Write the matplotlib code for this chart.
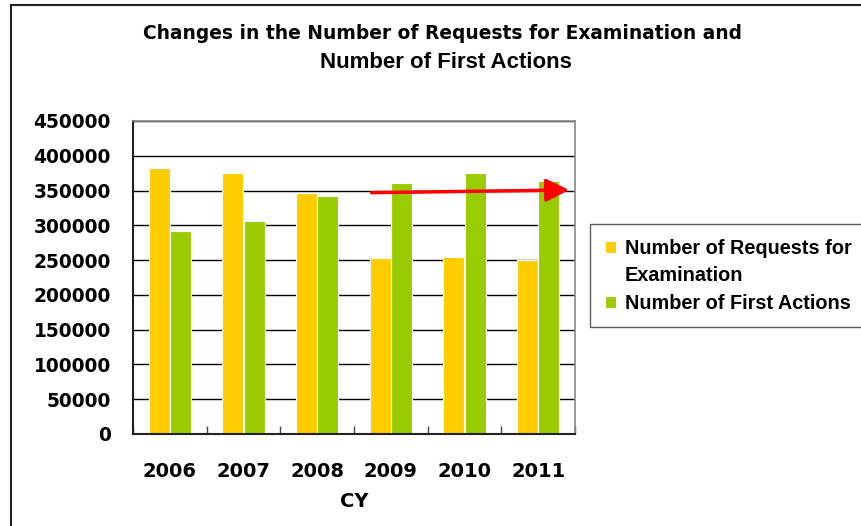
import numpy as np
import matplotlib
matplotlib.use("Agg")
import matplotlib.pyplot as plt
from matplotlib.lines import Line2D
from matplotlib.patches import Rectangle

# data
years = ["2006", "2007", "2008", "2009", "2010", "2011"]
requests = [382000, 375700, 346500, 252600, 254500, 250200]
first_actions = [291400, 306200, 342600, 361300, 375700, 363700]

# trend arrow (category position, value)
arrow_start = (2.74, 346900)
arrow_end = (5.42, 350800)

yellow = "#FFCC00"
green = "#99CC00"

fig = plt.figure(figsize=(8.61, 5.26), dpi=100)
ax = fig.add_axes([0.1545, 0.175, 0.5133, 0.595])

x = np.arange(len(years))
w = 0.285
b1 = ax.bar(x - 0.145, requests, w, color=yellow, edgecolor="white", linewidth=0.8, zorder=2)
b2 = ax.bar(x + 0.145, first_actions, w, color=green, edgecolor="white", linewidth=0.8, zorder=2)

ax.annotate("", xy=arrow_end, xytext=arrow_start,
            arrowprops=dict(arrowstyle="-|>,head_length=1.0,head_width=0.5",
                            color="red", lw=2.5, mutation_scale=14,
                            shrinkA=0, shrinkB=0), zorder=5)

ax.set_xlim(-0.5, len(years) - 0.5)
ax.set_ylim(0, 450000)
ax.set_yticks(np.arange(0, 450001, 50000))
ax.yaxis.grid(True, color="black", linewidth=1)
ax.set_axisbelow(True)

ax.set_xticks(x)
ax.set_xticklabels(years, fontsize=14, fontweight="bold")
ax.set_xticks(np.arange(-0.5, len(years)), minor=True)
ax.tick_params(axis="x", which="major", length=0, pad=20)
ax.tick_params(axis="x", which="minor", direction="in", length=6, width=1, color="#444444")
ax.tick_params(axis="y", length=0, pad=16, labelsize=13.4)
for lbl in ax.get_yticklabels():
    lbl.set_fontweight("bold")
ax.set_xlabel("CY", fontsize=14, fontweight="bold", labelpad=8)

for s in ["left", "bottom"]:
    ax.spines[s].set_color("#222222")
    ax.spines[s].set_linewidth(1.5)
for s in ["top", "right"]:
    ax.spines[s].set_color("#888888")
    ax.spines[s].set_linewidth(1.2)

fig.text(0.514, 0.937, "Changes in the Number of Requests for Examination and",
         ha="center", va="center", fontsize=13.4, fontweight="bold", family="DejaVu Sans")
fig.text(0.518, 0.882, "Number of First Actions", ha="center", va="center",
         fontsize=16, fontweight="bold", family="Liberation Sans")

# legend: the first label wraps onto a second line without its own marker
blank = Rectangle((0, 0), 1, 1, visible=False)
leg = fig.legend([b1, blank, b2],
                 ["Number of Requests for", "Examination", "Number of First Actions"],
                 loc="upper left", bbox_to_anchor=(590 / 861, 1 - 224 / 526),
                 prop={"family": "Liberation Sans", "weight": "bold", "size": 14.3},
                 frameon=True, fancybox=False, edgecolor="#333333",
                 handlelength=0.55, handleheight=0.55, handletextpad=0.45,
                 labelspacing=0.42, borderpad=0.75, borderaxespad=0)
leg.get_frame().set_linewidth(1.0)

# outer border of the chart area (top and left only visible)
fig.add_artist(Line2D([11 / 861, 11 / 861], [0, 1 - 5 / 526], transform=fig.transFigure,
                      color="#222222", lw=1.5))
fig.add_artist(Line2D([11 / 861, 1], [1 - 5 / 526, 1 - 5 / 526], transform=fig.transFigure,
                      color="#222222", lw=1.5))

fig.savefig("out.png", dpi=100)
